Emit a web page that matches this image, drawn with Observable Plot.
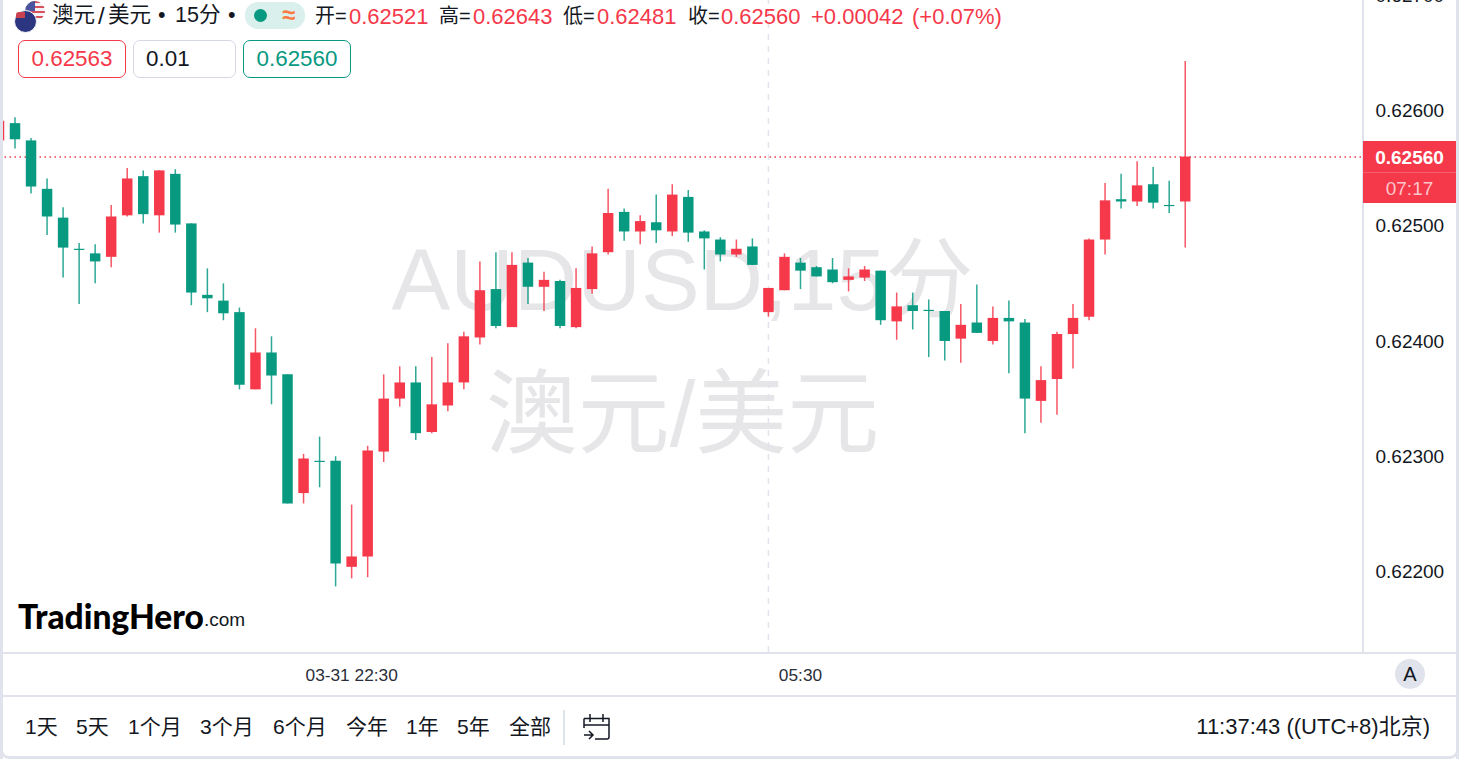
<!DOCTYPE html>
<html><head><meta charset="utf-8">
<script src="https://cdn.jsdelivr.net/npm/d3@7"></script>
<script src="https://cdn.jsdelivr.net/npm/@observablehq/plot@0.6"></script>
<style>
html,body{margin:0;padding:0;background:#fff;overflow:hidden}
#page{position:relative;width:1459px;height:759px;overflow:hidden;background:#fff;font-family:"Liberation Sans","Noto Sans CJK SC",sans-serif;color:#131722}
#chart{position:absolute;left:0;top:-20px}
.t{position:absolute;white-space:nowrap;line-height:1;font-size:20px}
.r{color:#f5384a}
.box{position:absolute;box-sizing:border-box;height:38px;top:40px;border-radius:7px;border:1.8px solid;font-size:22.4px;line-height:36px;background:#fff}
.line{position:absolute;background:#e0e3eb}
</style></head><body><div id="page"><div id="chart"></div></div>
<script>
// prices in units of 0.00001, first bar is the partly hidden one at the left edge
const opens=[62574,62589,62574,62532,62507,62480,62476,62473,62509,62543,62509,62545,62502,62440,62435,62425,62358,62390,62371,62268,62296,62296,62204,62213,62304,62350,62364,62321,62344,62364,62403,62445,62412,62468,62447,62452,62412,62445,62477,62512,62495,62503,62495,62525,62495,62488,62475,62482,62425,62444,62468,62464,62462,62453,62455,62461,62417,62431,62427,62426,62402,62416,62400,62420,62416,62348,62367,62406,62421,62488,62523,62521,62536,62518,62521];
const highs=[62591,62594,62576,62541,62516,62485,62484,62518,62550,62548,62548,62549,62502,62463,62450,62429,62411,62404,62371,62302,62317,62300,62258,62309,62371,62378,62378,62386,62398,62408,62469,62477,62477,62472,62460,62453,62463,62482,62532,62515,62509,62527,62536,62531,62496,62490,62488,62489,62446,62476,62472,62465,62472,62463,62465,62461,62442,62442,62436,62426,62432,62449,62430,62435,62419,62378,62408,62432,62489,62537,62545,62556,62551,62539,62643];
const lows=[62574,62567,62528,62492,62455,62432,62450,62464,62508,62502,62494,62494,62431,62425,62418,62358,62358,62345,62259,62259,62273,62187,62194,62195,62295,62343,62314,62320,62339,62358,62397,62411,62412,62432,62426,62411,62411,62441,62475,62487,62484,62485,62491,62486,62462,62469,62473,62466,62421,62444,62445,62456,62450,62443,62452,62414,62401,62410,62386,62383,62381,62407,62397,62372,62320,62329,62336,62376,62418,62475,62515,62517,62515,62511,62481];
const closes=[62591,62575,62534,62508,62481,62479,62469,62508,62541,62510,62548,62501,62442,62437,62424,62362,62390,62370,62259,62298,62295,62207,62213,62305,62350,62364,62320,62345,62364,62404,62444,62413,62466,62447,62453,62413,62446,62476,62511,62495,62504,62496,62527,62494,62489,62475,62480,62466,62446,62473,62461,62456,62451,62456,62462,62418,62430,62426,62426,62400,62414,62407,62420,62417,62350,62366,62406,62420,62488,62522,62521,62535,62520,62517,62560];
const priceTicks=[0.622,0.623,0.624,0.625,0.626,0.627];
const timeTickBars=[21,49];
const timeTickLabels=["03-31 22:30","05:30"];
const crosshairBar=47;
const lastPrice=0.6256;
const watermarks=["AUDUSD,15分","澳元/美元"];
const ranges=["1天","5天","1个月","3个月","6个月","今年","1年","5年","全部"];

const RED="#f5384a",GREEN="#089981";
const bars=opens.map((o,k)=>({bar:k-1,open:o/1e5,high:highs[k]/1e5,low:lows[k]/1e5,close:closes[k]/1e5,dir:closes[k]>=o?"up":"down"}));
const FONT='"Liberation Sans","Noto Sans CJK SC",sans-serif';

const svg=Plot.plot({
  width:1459,height:779,marginLeft:0,marginRight:96,marginTop:0,marginBottom:107,
  style:{fontFamily:FONT,background:"transparent",color:"#131722"},
  x:{type:"linear",domain:[-0.936,84.09],range:[-0.5,1362.5]},
  y:{type:"linear",domain:[0.621301,0.627132],range:[672,0]},
  color:{domain:["up","down"],range:[RED,GREEN]},
  marks:[
    Plot.text([watermarks[0]],{frameAnchor:"top-left",dx:682,dy:301,lineAnchor:"middle",textAnchor:"middle",fontSize:88,fill:"#e6e6e8",fontFamily:FONT}),
    Plot.text([watermarks[1]],{frameAnchor:"top-left",dx:682,dy:436,lineAnchor:"middle",textAnchor:"middle",fontSize:92,fill:"#e6e6e8",fontFamily:FONT}),
    Plot.ruleX([crosshairBar],{y1:0.621301,y2:0.627132,stroke:"#e0e3eb",strokeWidth:1.5,strokeDasharray:"6 6"}),
    Plot.ruleY([lastPrice],{x1:-0.936,x2:84.0,stroke:RED,strokeWidth:1.5,strokeDasharray:"1.5 3.5"}),
    Plot.ruleX(bars,{x:"bar",y1:"low",y2:"high",stroke:"dir",strokeWidth:1.5,strokeOpacity:0.85}),
    Plot.ruleX(bars,{x:"bar",y1:"open",y2:"close",stroke:"dir",strokeWidth:10.5}),
    Plot.axisY({anchor:"right",ticks:priceTicks,tickFormat:d=>d.toFixed(5),tickSize:0,tickPadding:12,fontSize:19,label:null,fill:"#131722"}),
    Plot.axisX({anchor:"bottom",ticks:timeTickBars,tickFormat:d=>timeTickLabels[timeTickBars.indexOf(d)],tickSize:0,tickPadding:16,fontSize:17.3,label:null,fill:"#2a2e39"})
  ]
});
document.getElementById("chart").appendChild(svg);

const page=document.getElementById("page");
function t(text,x,y,o={}){const e=document.createElement("div");e.className="t"+(o.red?" r":"");e.textContent=text;e.style.left=x+"px";e.style.top=y+"px";
 if(o.size)e.style.fontSize=o.size+"px"; if(o.color)e.style.color=o.color; if(o.weight)e.style.fontWeight=o.weight; if(o.font)e.style.fontFamily=o.font;
 if(o.right!=null){e.style.left="auto";e.style.right=o.right+"px";} page.appendChild(e);return e;}
function line(x,y,w,h,c){const e=document.createElement("div");e.className="line";Object.assign(e.style,{left:x+"px",top:y+"px",width:w+"px",height:h+"px"});if(c)e.style.background=c;page.appendChild(e);}
function html(s){const d=document.createElement("div");d.innerHTML=s;page.appendChild(d);}

// frame
line(0,0,3,759);line(1456,0,3,759);line(0,652,1459,2);line(0,695,1459,2);line(1362,0,1.5,652);
html('<div style="position:absolute;left:0;top:640px;width:1459px;height:119px;box-sizing:border-box;border:3px solid #e0e3eb;border-top:none;border-radius:0 0 9px 9px;pointer-events:none"></div>');
line(563,710,1.5,35);

// header
html(`<div style="position:absolute;left:25px;top:1px;width:20px;height:20px;border-radius:50%;background:repeating-linear-gradient(180deg,#d8505c 0 2.5px,#f3f3f6 2.5px 5px)"></div>
<div style="position:absolute;left:25px;top:1px;width:10px;height:10px;border-radius:10px 0 0 0;background:#49559c"></div>
<div style="position:absolute;left:14px;top:10px;width:21px;height:21px;border-radius:50%;background:#2b3580;border:1px solid #fff;box-sizing:content-box"></div>
<div style="position:absolute;left:16px;top:12px;width:9px;height:6px;border-radius:3px 0 0 0;background:#c9404f"></div>
<div style="position:absolute;left:245px;top:2px;width:60px;height:27px;border-radius:13px;background:#d9f0ec"></div>
<div style="position:absolute;left:254px;top:9px;width:13px;height:13px;border-radius:50%;background:#089981"></div>`);
t("澳元",52,5,{size:21.5});t("/",98,4,{size:24});t("美元",108,5,{size:21.5});
t("•",158,5,{size:21.5});t("15分",175,5,{size:21.5});t("•",228,5,{size:21.5});
t("≈",282,3,{size:24,color:"#fb7b45",weight:700});
[["开=",315,"0.62521",349],["高=",439,"0.62643",473],["低=",563,"0.62481",597],["收=",688,"0.62560",721]].forEach(([a,x,b,x2])=>{t(a,x,6,{size:20});t(b,x2,6,{size:22,red:1});});
t("+0.00042",811,6,{size:22,red:1});t("(+0.07%)",912,6,{size:22,red:1});

// order boxes
html(`<div class="box r" style="left:18px;width:108px;border-color:#f5384a;text-align:center">0.62563</div>
<div class="box" style="left:133px;width:103px;border-color:#d4d8e4;padding-left:12px">0.01</div>
<div class="box" style="left:243px;width:108px;border-color:#089981;color:#089981;text-align:center">0.62560</div>`);

// last price tag
html(`<div style="position:absolute;left:1363px;top:141px;width:93px;height:62px;background:#f5384a"></div>
<div style="position:absolute;left:1363px;top:172px;width:93px;height:1px;background:#f8606e"></div>`);
const tag=(s,y,c,w)=>{const e=t(s,1363,y,{size:19,color:c,weight:w});e.style.width="93px";e.style.textAlign="center";};
tag("0.62560",147.5,"#fff",700);tag("07:17",179,"#fbc6cb",400);

// logo
t("TradingHero",18,600,{size:33.5,weight:900,color:"#000",font:"Lato"});
t(".com",204,610,{size:19,color:"#131722",font:"Liberation Sans"});

// toolbar
const rx=[25,76,128,200,273,346,406,457,509];
ranges.forEach((r,k)=>t(r,rx[k],716,{size:21}));
html(`<svg style="position:absolute;left:582px;top:712px" width="30" height="30" viewBox="0 0 30 30" fill="none" stroke="#131722" stroke-width="1.5"><path d="M2 6.5H27V25a2 2 0 0 1-2 2H13M2 6.5V16M2 13H27M8 2V10M21 2V10M2 23H11M7 19L11 23L7 27"/></svg>`);
t("11:37:43 ((UTC+8)北京)",0,716,{size:22,right:29});
html(`<div style="position:absolute;left:1395px;top:659px;width:30px;height:30px;border-radius:50%;background:#e0e3eb;color:#131722;text-align:center;font-size:20px;line-height:30px">A</div>`);
</script></body></html>
